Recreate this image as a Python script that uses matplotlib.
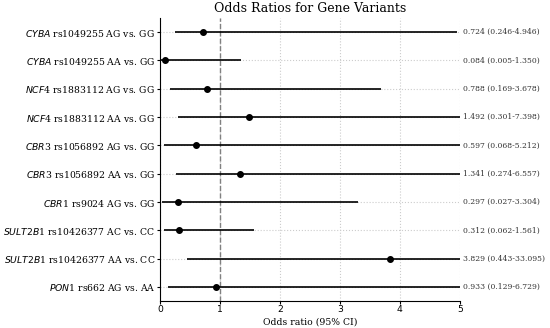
import matplotlib
matplotlib.use("Agg")
import matplotlib.pyplot as plt
import matplotlib.transforms as mtransforms

genes = ["CYBA", "CYBA", "NCF", "NCF", "CBR", "CBR", "CBR", "SULT2B", "SULT2B", "PON"]
gene_suffix = ["", "", "4", "4", "3", "3", "1", "1", "1", "1"]
variants = ["rs1049255 AG vs. GG", "rs1049255 AA vs. GG", "rs1883112 AG vs. GG",
            "rs1883112 AA vs. GG", "rs1056892 AG vs. GG", "rs1056892 AA vs. GG",
            "rs9024 AG vs. GG", "rs10426377 AC vs. CC", "rs10426377 AA vs. CC",
            "rs662 AG vs. AA"]
odds_ratio = [0.724, 0.084, 0.788, 1.492, 0.597, 1.341, 0.297, 0.312, 3.829, 0.933]
ci_low = [0.246, 0.005, 0.169, 0.301, 0.068, 0.274, 0.027, 0.062, 0.443, 0.129]
ci_high = [4.946, 1.350, 3.678, 7.398, 5.212, 6.557, 3.304, 1.561, 33.095, 6.729]

fig = plt.figure(figsize=(5.5, 3.28), dpi=100)
ax = fig.add_axes([0.291, 0.082, 0.545, 0.863])

ypos = list(range(len(odds_ratio)))
ax.hlines(ypos, ci_low, ci_high, color="black", linewidth=1.2, zorder=3)
ax.plot(odds_ratio, ypos, "o", color="black", markersize=4, zorder=4)
ax.axvline(1, color="gray", linestyle="--", linewidth=1, zorder=2)

ax.set_xlim(0, 5)
ax.set_ylim(len(odds_ratio) - 0.5, -0.5)
ax.set_yticks(ypos)
labels = [r"$\it{%s}$%s %s" % (g, s, v) for g, s, v in zip(genes, gene_suffix, variants)]
ax.set_yticklabels(labels, fontfamily="DejaVu Serif", fontsize=6.7)
ax.set_xticks([0, 1, 2, 3, 4, 5])
ax.tick_params(axis="x", labelsize=6.7, length=2, pad=1)
ax.tick_params(axis="y", length=2.5, pad=1)
ax.grid(True, linestyle=":", color="#cccccc", linewidth=0.8, zorder=0)
ax.set_axisbelow(True)
for sp in ["top", "right"]:
    ax.spines[sp].set_visible(False)

trans = mtransforms.blended_transform_factory(ax.transAxes, ax.transData)
for y, o, lo, hi in zip(ypos, odds_ratio, ci_low, ci_high):
    ax.text(1.01, y, f"{o:.3f} ({lo:.3f}-{hi:.3f})", transform=trans,
            ha="left", va="center", fontsize=5.5, family="DejaVu Serif", color="#333333")

ax.set_xlabel("Odds ratio (95% CI)", fontfamily="DejaVu Serif", fontsize=6.7, labelpad=2)
ax.set_title("Odds Ratios for Gene Variants", fontfamily="DejaVu Serif", fontsize=9, pad=4)

fig.savefig("out.png", dpi=100)
